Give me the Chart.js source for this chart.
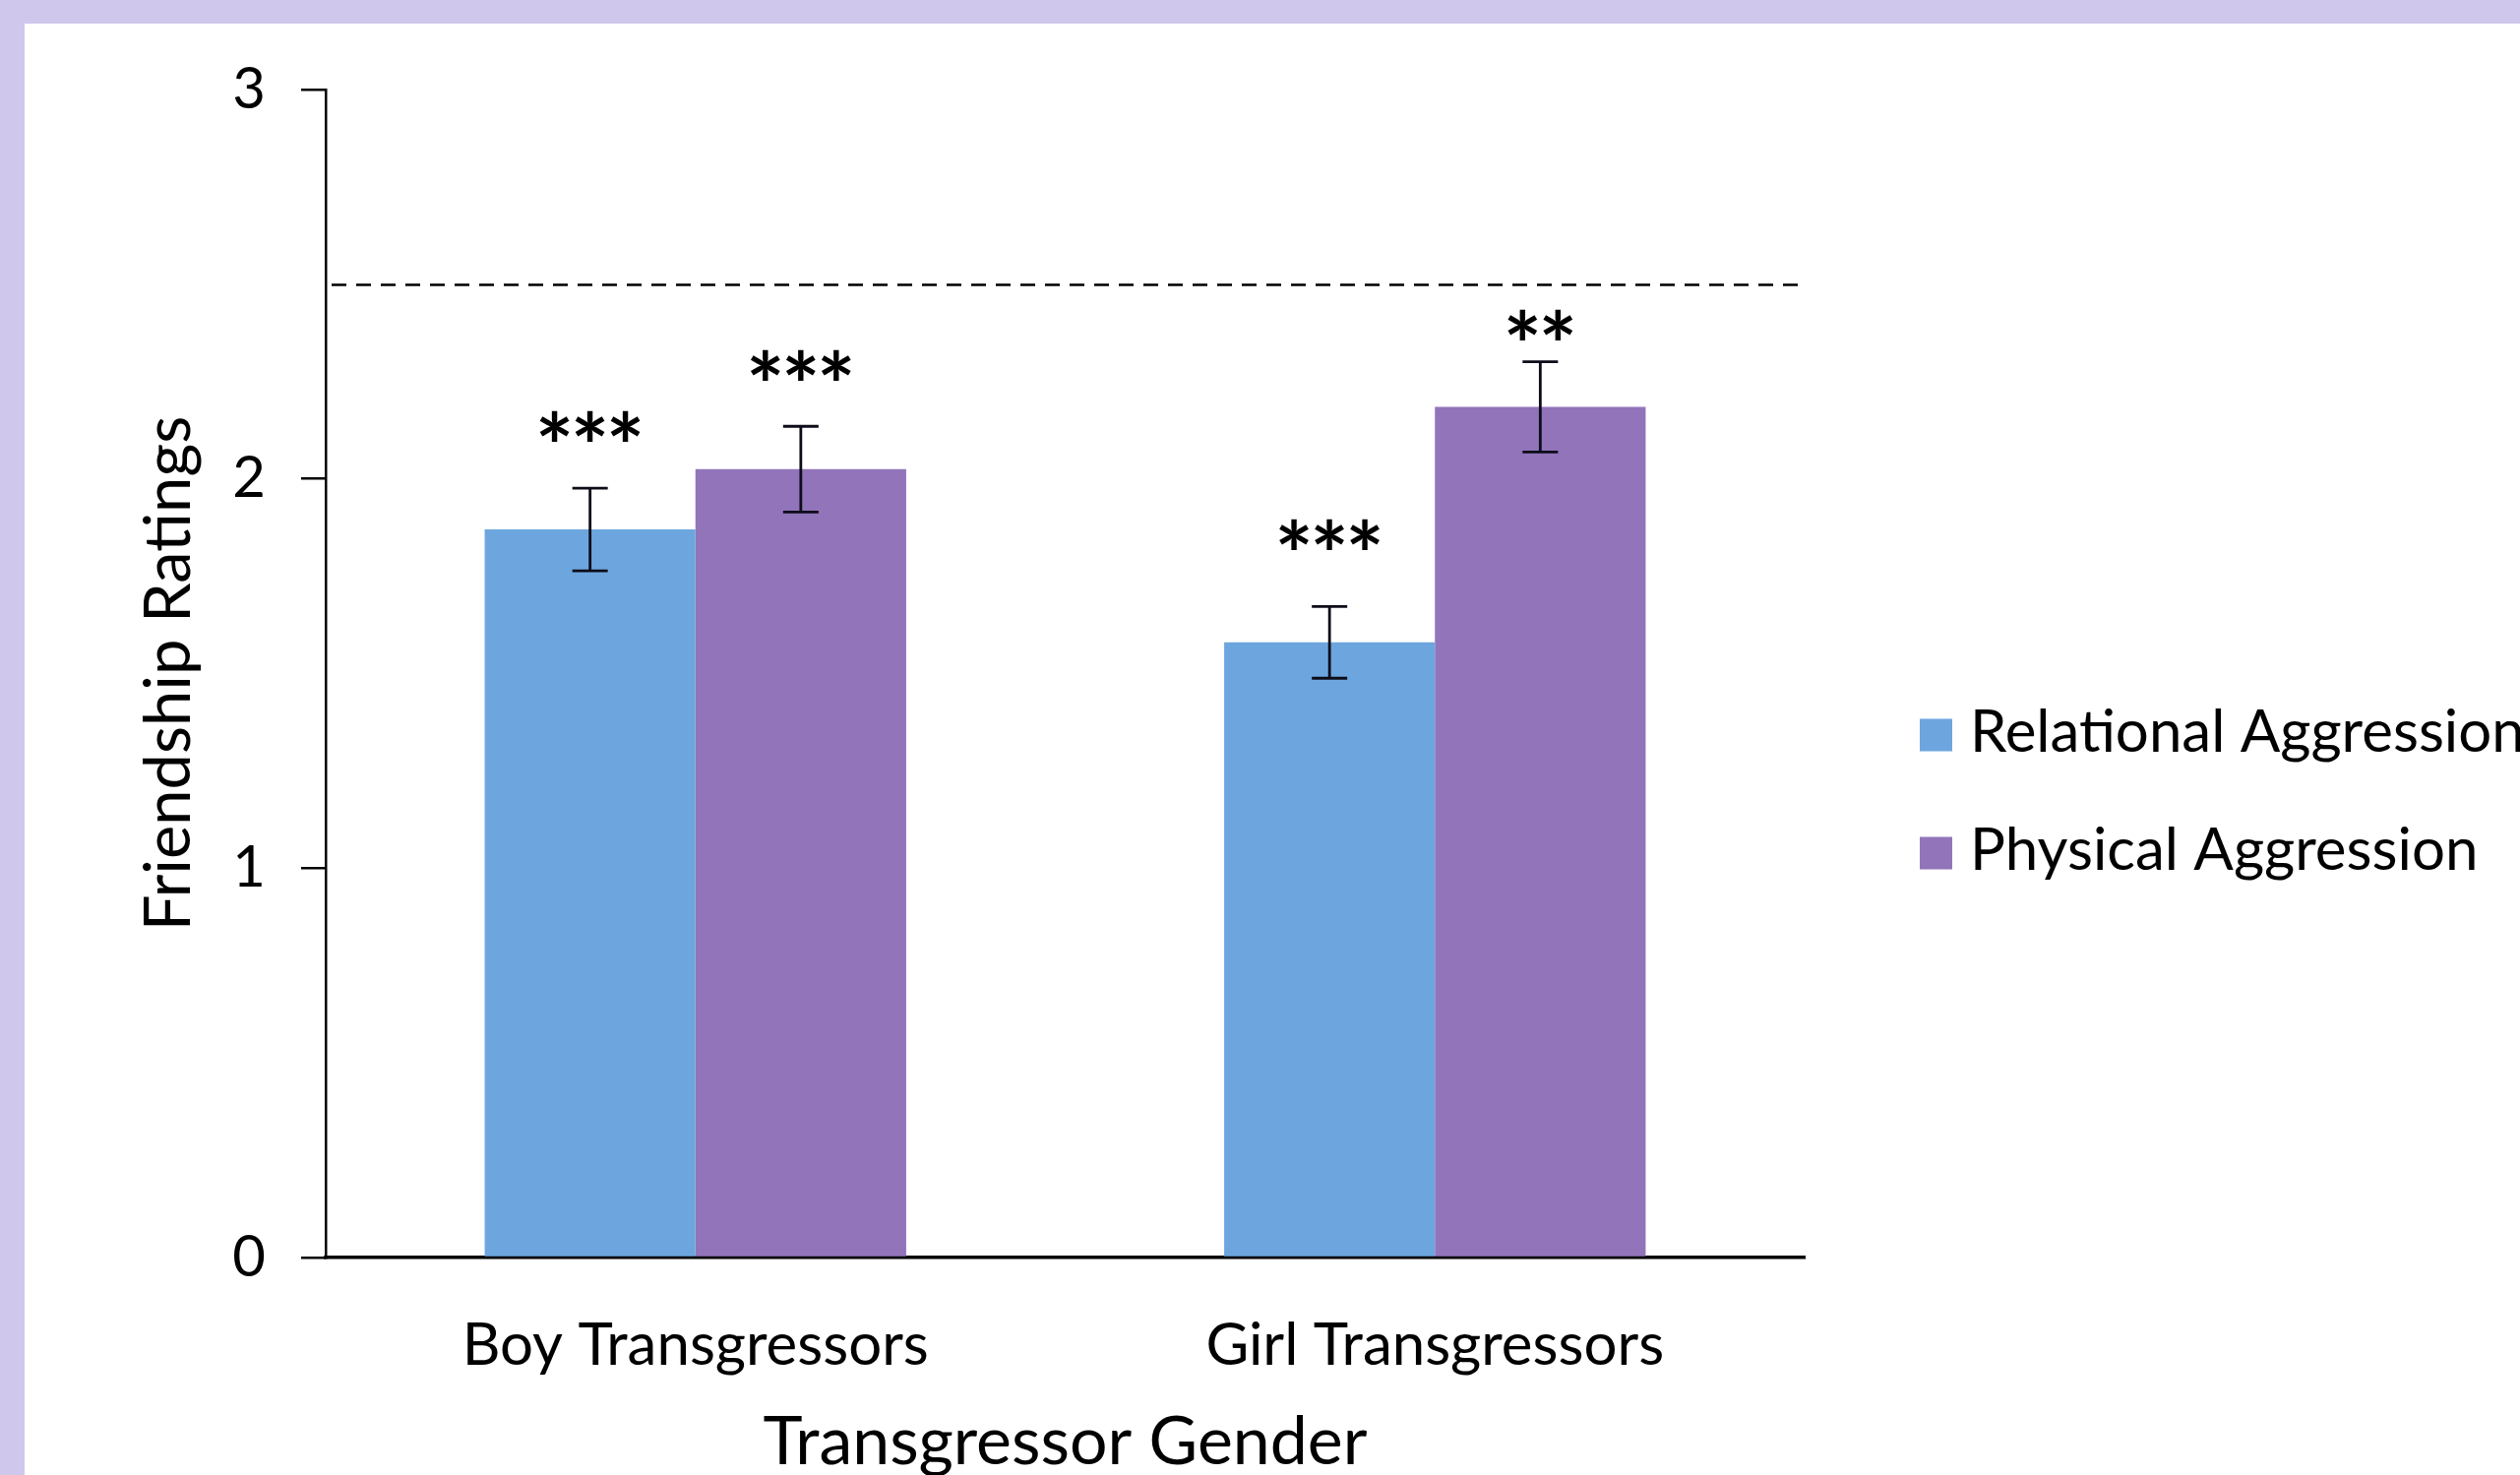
<!DOCTYPE html>
<html>
<head>
<meta charset="utf-8">
<script src="https://cdn.jsdelivr.net/npm/chart.js@4.4.1/dist/chart.umd.min.js"></script>
<style>
  html, body { margin: 0; padding: 0; background: #CFC8EC; overflow: hidden; }
  canvas { display: block; }
</style>
</head>
<body>
<canvas id="chart" width="2561" height="1499" style="width:2561px;height:1499px"></canvas>
<script>
// Friendship ratings by transgressor gender and aggression type
const categories = ['Boy Transgressors', 'Girl Transgressors'];
const seriesNames = ['Relational Aggression', 'Physical Aggression'];
const relationalMeans = [1.87, 1.58];
const physicalMeans = [2.025, 2.185];
const relationalErrors = [0.106, 0.092];
const physicalErrors = [0.11, 0.116];
const relationalStars = ['***', '***'];
const physicalStars = ['***', '**'];
const relationalStarLevels = [2.136, 1.857];
const physicalStarLevels = [2.293, 2.396];
const yTicks = [0, 1, 2, 3];
const chanceLevel = 2.5;

const FONT = 'Lato';
const INK = '#000';

// lavender frame with a white panel
const backdrop = {
  id: 'backdrop',
  beforeDraw(chart) {
    const { ctx, width, height } = chart;
    ctx.save();
    ctx.fillStyle = '#CFC8EC';
    ctx.fillRect(0, 0, width, height);
    ctx.fillStyle = '#ffffff';
    ctx.fillRect(25, 24, width - 25, height - 24);
    ctx.restore();
  }
};

// dashed chance line, error bars and significance stars
const annotations = {
  id: 'annotations',
  afterDatasetsDraw(chart) {
    const { ctx, chartArea, scales: { y } } = chart;
    ctx.save();

    const yr = Math.round(y.getPixelForValue(chanceLevel)) + 0.5;
    ctx.strokeStyle = '#000';
    ctx.lineWidth = 2.5;
    ctx.setLineDash([15, 10]);
    ctx.beginPath();
    ctx.moveTo(chartArea.left + 6, yr);
    ctx.lineTo(chartArea.right + 3, yr);
    ctx.stroke();
    ctx.setLineDash([]);

    ctx.font = 'bold 92px ' + FONT;
    const one = ctx.measureText('*');
    const pitch = 36;
    const glyphMid = (one.actualBoundingBoxAscent - one.actualBoundingBoxDescent) / 2;

    chart.data.datasets.forEach((ds, di) => {
      const meta = chart.getDatasetMeta(di);
      meta.data.forEach((bar, i) => {
        const v = ds.data[i];
        const e = ds.errors[i];
        const x = bar.x;
        const yt = y.getPixelForValue(v + e);
        const yb = y.getPixelForValue(v - e);
        ctx.strokeStyle = '#0d0d1a';
        ctx.lineWidth = 2.8;
        ctx.beginPath();
        ctx.moveTo(x, yt); ctx.lineTo(x, yb);
        ctx.moveTo(x - 18, yt); ctx.lineTo(x + 18, yt);
        ctx.moveTo(x - 18, yb); ctx.lineTo(x + 18, yb);
        ctx.stroke();

        const s = ds.stars[i];
        const sy = y.getPixelForValue(ds.starLevels[i]) + glyphMid;
        ctx.fillStyle = INK;
        ctx.textAlign = 'center';
        ctx.textBaseline = 'alphabetic';
        let sx = x - (s.length - 1) * pitch / 2;
        for (const ch of s) {
          ctx.fillText(ch, sx, sy);
          sx += pitch;
        }
      });
    });
    ctx.restore();
  }
};

// legend keys on the right
const legendKey = {
  id: 'legendKey',
  afterDraw(chart) {
    const { ctx } = chart;
    ctx.save();
    ctx.font = '60px ' + FONT;
    ctx.textAlign = 'left';
    ctx.textBaseline = 'alphabetic';
    chart.data.datasets.forEach((ds, i) => {
      const yc = 747 + i * 120;
      ctx.fillStyle = ds.backgroundColor;
      ctx.fillRect(1951, yc - 16.5, 33, 33);
      ctx.fillStyle = INK;
      ctx.fillText(ds.label, 2002, yc + 17);
    });
    ctx.restore();
  }
};

new Chart(document.getElementById('chart'), {
  type: 'bar',
  data: {
    labels: categories,
    datasets: [
      {
        label: seriesNames[0],
        data: relationalMeans,
        errors: relationalErrors,
        stars: relationalStars,
        starLevels: relationalStarLevels,
        backgroundColor: '#6DA6DE',
        borderWidth: 0,
        categoryPercentage: 0.57,
        barPercentage: 1.0
      },
      {
        label: seriesNames[1],
        data: physicalMeans,
        errors: physicalErrors,
        stars: physicalStars,
        starLevels: physicalStarLevels,
        backgroundColor: '#9274BA',
        borderWidth: 0,
        categoryPercentage: 0.57,
        barPercentage: 1.0
      }
    ]
  },
  options: {
    responsive: false,
    animation: false,
    devicePixelRatio: 1,
    layout: { padding: { left: 0, top: 91, right: 727, bottom: 0 } },
    plugins: {
      legend: { display: false },
      tooltip: { enabled: false }
    },
    scales: {
      x: {
        grid: { display: false },
        border: { display: true, color: '#000', width: 3.5 },
        ticks: { color: INK, font: { family: FONT, size: 60 }, padding: 46 },
        title: {
          display: true,
          text: 'Transgressor Gender',
          color: INK,
          font: { family: FONT, size: 68 },
          padding: { top: 0, bottom: -8 }
        },
        afterFit(scale) { scale.height = 221; }
      },
      y: {
        min: 0,
        max: 3,
        afterBuildTicks(scale) { scale.ticks = yTicks.map(v => ({ value: v })); },
        grid: {
          display: true,
          drawOnChartArea: false,
          drawTicks: true,
          tickLength: 25,
          color: '#000',
          lineWidth: 2.5
        },
        border: { display: true, color: '#000', width: 2.5 },
        ticks: { color: INK, font: { family: FONT, size: 58 }, padding: 36 },
        title: {
          display: true,
          text: 'Friendship Ratings',
          color: INK,
          font: { family: FONT, size: 65 },
          padding: { top: 133, bottom: 0 }
        },
        afterFit(scale) { scale.width = 331; }
      }
    }
  },
  plugins: [backdrop, annotations, legendKey]
});
</script>
</body>
</html>
